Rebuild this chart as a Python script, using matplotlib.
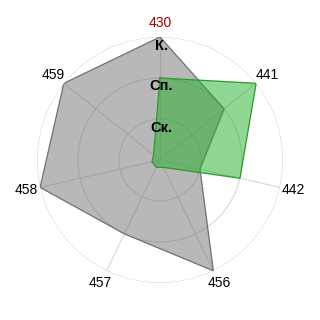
import numpy as np
import matplotlib
matplotlib.use("Agg")
import matplotlib.pyplot as plt
from matplotlib.transforms import offset_copy

categories = ["430", "441", "442", "456", "457", "458", "459"]
series_gray = [3, 2, 1, 3, 2, 3, 3]
series_green = [2, 3, 2, 0.2, 0.2, 0.2, 0.2]
level_values = [1, 2, 3]
level_labels = ["Ск.", "Сп.", "К."]
cat_colors = ["#990000"] + ["#000000"] * 6

plt.rcParams['font.family'] = ['Liberation Sans', 'DejaVu Sans']

fig = plt.figure(figsize=(3.2, 3.2), dpi=100)
ax = fig.add_axes([37/320, 37/320, 246/320, 246/320], projection='polar')
ax.set_theta_zero_location('N')
ax.set_theta_direction(-1)

n = len(categories)
angles = np.arange(n) * 2 * np.pi / n
ang_closed = np.append(angles, angles[0])

ax.set_ylim(0, 3)
ax.set_yticks(level_values)
ax.set_yticklabels([])
ax.set_xticks(angles)
ax.set_xticklabels([])
ax.grid(True, color='#d8d8d8', linewidth=0.8)
ax.spines['polar'].set_visible(False)
ax.tick_params(length=0)

g = np.append(series_gray, series_gray[0])
ax.fill(ang_closed, g, color='#727272', alpha=0.5, zorder=3, linewidth=0)
ax.plot(ang_closed, g, color='#707070', linewidth=0.9, zorder=4)

gr = np.append(series_green, series_green[0])
ax.fill(ang_closed, gr, color='#22b02a', alpha=0.5, zorder=5, linewidth=0)
ax.plot(ang_closed, gr, color='#2a9a2a', linewidth=0.9, zorder=6)

for a, lab, c in zip(angles, categories, cat_colors):
    ax.text(a, 3.34, lab, ha='center', va='center', fontsize=10, color=c,
            clip_on=False)

tr = offset_copy(ax.transData, fig=fig, x=1.5, y=-8.5, units='dots')
for v, lab in zip(level_values, level_labels):
    ax.text(0, v, lab, transform=tr, ha='center', va='center', fontsize=10.5,
            fontweight='bold', color='black', zorder=8, clip_on=False)

fig.savefig("out.png", dpi=100)
